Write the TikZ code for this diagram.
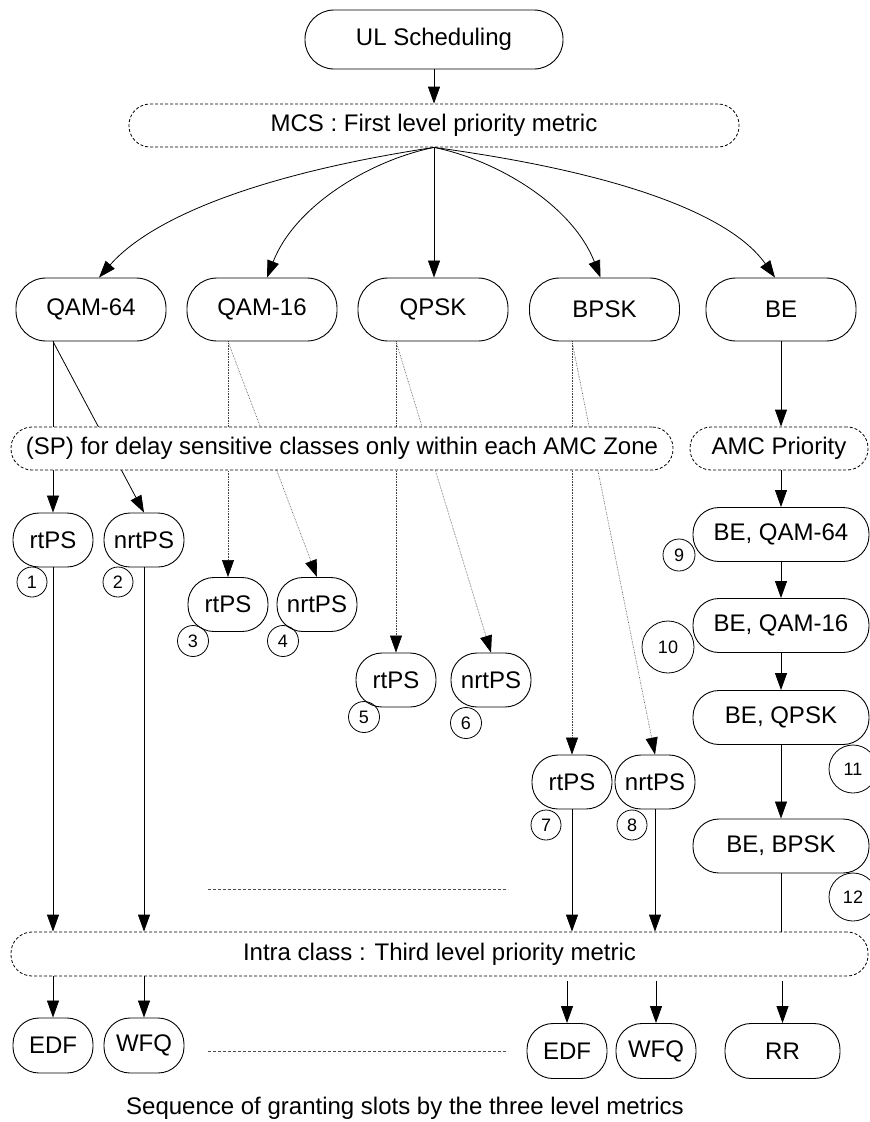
\documentclass[tikz,border=0pt]{standalone}
\usepackage{fontspec}
\setmainfont{Liberation Sans}
\usetikzlibrary{arrows.meta}
\begin{document}
\begin{tikzpicture}[x=1pt,y=-1pt,
  every node/.style={font=\fontsize{24}{28}\selectfont, inner sep=0pt},
  box/.style={draw, line width=0.9pt, fill=white},
  dashedbox/.style={box, dash pattern=on 3pt off 2pt, line width=0.8pt, rounded corners=21pt},
  bigbox/.style={box, rounded corners=30pt, minimum width=150pt, minimum height=63pt},
  smallbox/.style={box, rounded corners=26pt, minimum width=80pt, minimum height=54pt},
  bebox/.style={box, rounded corners=26pt, minimum width=176pt, minimum height=54pt},
  num/.style={draw, circle, line width=0.8pt, minimum size=30pt, font=\fontsize{18}{20}\selectfont},
  tip/.style={-{Triangle[length=17pt,width=12pt,black]}},
  link/.style={line width=0.8pt, tip},
  plain/.style={line width=0.8pt},
  faint/.style={line width=0.6pt, black!75, densely dotted, tip},
  gapline/.style={line width=0.8pt, dash pattern=on 3pt off 2pt, black!70}]
\useasboundingbox (0,0) rectangle (870,1122);

% top of the tree
\node[box, rounded corners=29pt, minimum width=258pt, minimum height=59pt] (ul) at (434,39.5) {UL Scheduling};
\node[dashedbox, minimum width=610pt, minimum height=43pt] (mcs) at (434,125.5) {MCS : First level priority metric};

% modulation zones
\node[bigbox] (q64)  at (91,309.5)  {QAM-64};
\node[bigbox] (q16)  at (262,309.5) {QAM-16};
\node[bigbox] (qpsk) at (433,309.5) {QPSK};
\node[bigbox] (bpsk) at (604.5,309.5) {BPSK};
\node[bigbox] (be)   at (781,309.5) {BE};

% service classes per zone
\node[smallbox] (r1) at (53,540)    {rtPS};
\node[smallbox] (n1) at (144,540)   {nrtPS};
\node[smallbox] (r2) at (228,604.5) {rtPS};
\node[smallbox] (n2) at (317,604.5) {nrtPS};
\node[smallbox] (r3) at (396,680)   {rtPS};
\node[smallbox] (n3) at (491,680)   {nrtPS};
\node[smallbox] (r4) at (572,782)   {rtPS};
\node[smallbox] (n4) at (655,782)   {nrtPS};

% best effort chain
\node[dashedbox, minimum width=178pt, minimum height=43pt] (amc) at (779,448.5) {AMC Priority};
\node[bebox] (be64)   at (781,534.5) {BE, QAM-64};
\node[bebox] (be16)   at (781,625.5) {BE, QAM-16};
\node[bebox] (beqpsk) at (781,717.5) {BE, QPSK};
\node[bebox] (bebpsk) at (781,846)   {BE, BPSK};

% third level
\node[dashedbox, minimum width=857pt, minimum height=44pt] (intra) at (439.5,954) {Intra class : Third level priority metric};
\node[smallbox, minimum height=55pt] (e1) at (53,1045.5)  {EDF};
\node[smallbox, minimum height=55pt] (w1) at (144,1045.5) {WFQ};
\node[smallbox, minimum height=55pt] (e2) at (567,1051)   {EDF};
\node[smallbox, minimum height=55pt] (w2) at (656,1051)   {WFQ};
\node[smallbox, minimum width=115pt, minimum height=55pt] (rr) at (782.5,1051) {RR};

\node (caption) at (405,1108) {Sequence of granting slots by the three level metrics};

% first level fan-out
\draw[link] (ul.south) -- (ul.south |- mcs.north);
\draw[link] (mcs.south) .. controls +(-184,28) and +(50,-57) .. ([xshift=8pt]q64.north);
\draw[link] (mcs.south) .. controls +(-64,13) and +(28,-72) .. ([xshift=5pt]q16.north);
\draw[link] (mcs.south) -- (mcs.south |- qpsk.north);
\draw[link] (mcs.south) .. controls +(64,13) and +(-28,-72) .. ([xshift=-4pt]bpsk.north);
\draw[link] (mcs.south) .. controls +(206,28) and +(-40,-57) .. ([xshift=-6pt]be.north);

% second level branches (pass behind the SP band)
\draw[link] (q64.south -| r1.north) -- (r1.north);
\draw[link] (q64.south -| r1.north) -- (n1.north);
\draw[faint] (q16.south -| r2.north) -- (r2.north);
\draw[faint] (q16.south -| r2.north) -- (n2.north);
\draw[faint] (qpsk.south -| r3.north) -- (r3.north);
\draw[faint] (qpsk.south -| r3.north) -- (n3.north);
\draw[faint] (bpsk.south -| r4.north) -- (r4.north);
\draw[faint] (bpsk.south -| r4.north) -- (n4.north);

\node[dashedbox, minimum width=662pt, minimum height=43pt] (sp) at (342,448.5) {(SP) for delay sensitive classes only within each AMC Zone};

% best effort arrows
\draw[link] (be.south) -- (be.south |- amc.north);
\draw[link] (amc.south -| be64.north) -- (be64.north);
\draw[link] (be64.south) -- (be16.north);
\draw[link] (be16.south) -- (beqpsk.north);
\draw[link] (beqpsk.south) -- (bebpsk.north);
\draw[plain] (bebpsk.south) -- (bebpsk.south |- intra.north);

% into the third level
\draw[link] (r1.south) -- (r1.south |- intra.north);
\draw[link] (n1.south) -- (n1.south |- intra.north);
\draw[link] (r4.south) -- (r4.south |- intra.north);
\draw[link] (n4.south) -- (n4.south |- intra.north);

% out of the third level
\draw[link] (intra.south -| e1.north) -- (e1.north);
\draw[link] (intra.south -| w1.north) -- (w1.north);
\draw[link, shorten <=5pt] (intra.south -| e2.north) -- (e2.north);
\draw[link, shorten <=5pt] (intra.south -| w2.north) -- (w2.north);
\draw[link, shorten <=5pt] (intra.south -| rr.north) -- (rr.north);

% ellipsis lines
\coordinate (g1a) at (208,889);  \coordinate (g1b) at (508,889);
\coordinate (g2a) at (208,1051); \coordinate (g2b) at (508,1051);
\draw[gapline] (g1a) -- (g1b);
\draw[gapline] (g2a) -- (g2b);

% grant order
\node[num] (c1) at (32,582) {1};
\node[num] (c2) at (118,582) {2};
\node[num, minimum size=31pt] (c3) at (193,641) {3};
\node[num, minimum size=31pt] (c4) at (283,641) {4};
\node[num, minimum size=31pt] (c5) at (364,717) {5};
\node[num, minimum size=31pt] (c6) at (466,723) {6};
\node[num] (c7) at (546,825) {7};
\node[num] (c8) at (632,825) {8};
\node[num, minimum size=32pt] (c9) at (679,555) {9};
\node[num, minimum size=52pt] (c10) at (668,647) {10};
\node[num, minimum size=48pt] (c11) at (853,769) {11};
\node[num, minimum size=48pt] (c12) at (853,897) {12};
\end{tikzpicture}
\end{document}
